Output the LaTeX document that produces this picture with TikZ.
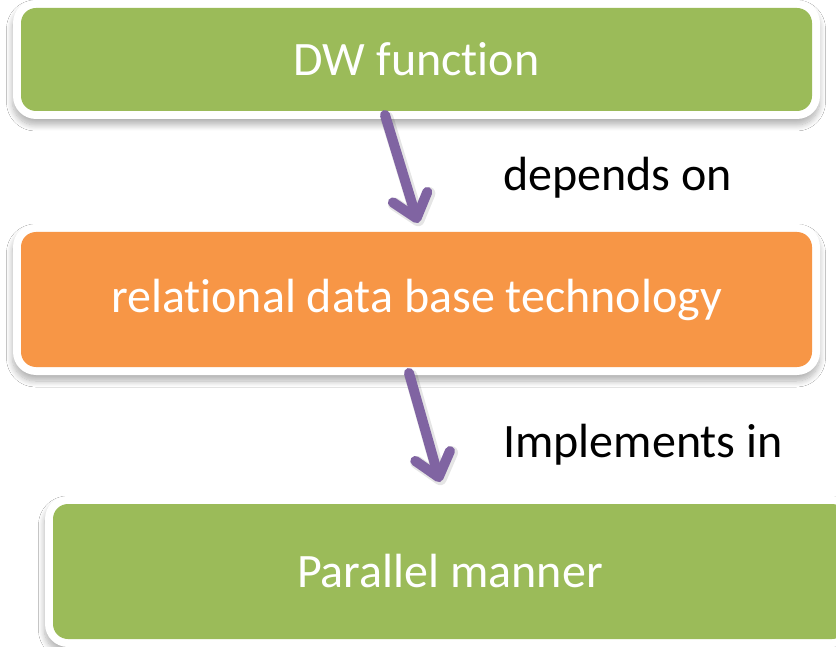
\documentclass[tikz,border=0pt]{standalone}
\usepackage{fontspec}
\setmainfont{Carlito}[Ligatures={NoCommon}]
\usetikzlibrary{arrows.meta,shadows.blur}
\definecolor{boxgreen}{HTML}{9BBB59}
\definecolor{boxorange}{HTML}{F79646}
\definecolor{arrowpurple}{HTML}{8064A2}

\begin{document}
\begin{tikzpicture}[x=1pt,y=-1pt,
  frame/.style={fill=white, draw=none, rounded corners=23pt, inner sep=0pt,
    blur shadow={shadow xshift=-0.5pt, shadow yshift=-6pt, shadow blur steps=10,
      shadow blur radius=6pt, shadow opacity=30}},
  panel/.style={draw=none, rounded corners=15pt, inner sep=0pt, text=white,
    font=\fontsize{48}{58}\selectfont},
  lbl/.style={inner sep=0pt, text=black, font=\fontsize{48}{58}\selectfont},
  link/.style={draw=arrowpurple, line width=10pt, line cap=round, line join=round,
    -{Straight Barb[length=22pt, width=36pt, line cap=round, line join=round]}},
  linkshadow/.style={draw=black, opacity=0.10, line width=13pt, line cap=round, line join=round,
    -{Straight Barb[length=22pt, width=36pt, line cap=round, line join=round]}}
]
\fill[white] (0,0) rectangle (836,647);
\useasboundingbox (0,0) rectangle (836,647);

% white frames with soft drop shadows
\node[frame, minimum width=807pt, minimum height=119pt] (f1) at (416.5,59.5) {};
\node[frame, minimum width=807pt, minimum height=151pt] (f2) at (416.5,299.5) {};
\node[frame, minimum width=810pt, minimum height=151pt] (f3) at (450,571.5) {};

% coloured panels
\node[panel, fill=boxgreen, minimum width=791pt, minimum height=103pt] (dw) at (416.5,59.5) {DW function};
\node[panel, fill=boxorange, minimum width=791pt, minimum height=135pt] (rdb) at (416.5,299.5) {relational data base technology};
\node[panel, fill=boxgreen, minimum width=794pt, minimum height=135pt] (par) at (450,571.5) {Parallel manner};

% connector end points
\coordinate (a1s) at (385,115);
\coordinate (a1e) at (418,223);
\coordinate (a2s) at (409,373);
\coordinate (a2e) at (440,482);
\coordinate (a1ss) at (387,118);
\coordinate (a1es) at (420,226);
\coordinate (a2ss) at (411,376);
\coordinate (a2es) at (442,485);

% arrows with a faint shadow
\draw[linkshadow] (a1ss) -- (a1es);
\draw[linkshadow] (a2ss) -- (a2es);
\draw[link] (a1s) -- (a1e);
\draw[link] (a2s) -- (a2e);

% connector labels
\node[lbl, anchor=west] (dep) at (503,178) {depends on};
\node[lbl, anchor=west] (imp) at (503,445) {Implements in};
\end{tikzpicture}
\end{document}
